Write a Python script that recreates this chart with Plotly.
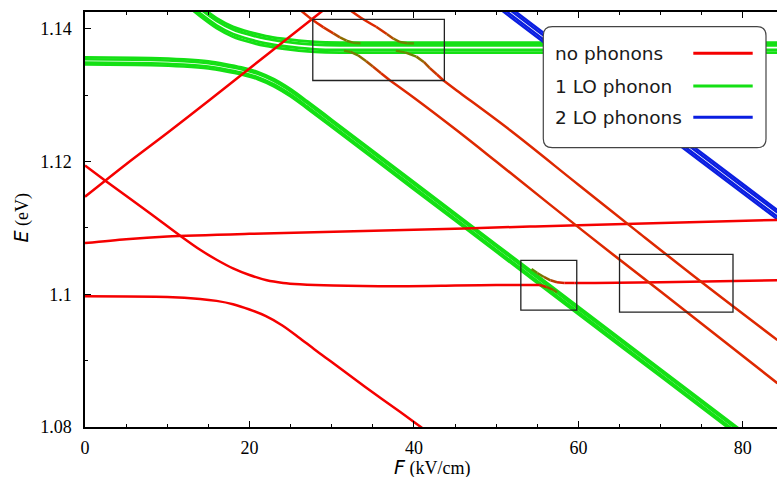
import plotly.graph_objects as go

# ---------------- axes ----------------
X_RANGE = [0, 84.15]
Y_RANGE = [1.08, 1.14252]
x_tickvals = [0, 20, 40, 60, 80]
x_ticktext = ["0", "20", "40", "60", "80"]
y_tickvals = [1.08, 1.10, 1.12, 1.14]
y_ticktext = ["1.08", "1.1", "1.12", "1.14"]

# ---------------- no-phonon levels (red) ----------------
r1_x = [0, 10, 14, 16, 18, 20, 22, 24, 26, 28, 30.2, 34, 38.3, 41.5]
r1_y = [1.0997, 1.0996, 1.0993, 1.0990, 1.0985, 1.0977, 1.0967, 1.0953, 1.0935, 1.0916, 1.0896, 1.0861, 1.0823, 1.0794]

r3_x = [0, 5, 10, 20, 40, 54.1, 60, 84.2]
r3_y = [1.1077, 1.1083, 1.1087, 1.1091, 1.1097, 1.1102, 1.1104, 1.1112]

r4_x = [0, 5, 10, 15, 20, 25, 29.5]
r4_y = [1.1147, 1.1196, 1.1243, 1.1291, 1.1340, 1.1389, 1.1433]

r2l_x = [0, 2.6, 7.9, 11.7, 14, 16, 18, 20, 22.1, 24.1, 26.1, 30.2, 38.3, 45, 50, 55.3, 56.1, 56.9, 57.4]
r2l_y = [1.1194, 1.1170, 1.1122, 1.1087, 1.1067, 1.1052, 1.1039, 1.1029, 1.1021, 1.1017, 1.1015, 1.1013, 1.1012, 1.1013, 1.1014, 1.1014, 1.1011, 1.1007, 1.1003]
r2l_w = [0, 0, 0, 0, 0, 0, 0, 0, 0, 0, 0, 0, 0, 0, 0, 0, 0.35, 0.6, 0.8]

r2r_x = [54.3, 55.0, 55.8, 56.6, 57.4, 58.3, 59.5, 62, 70, 84.2]
r2r_y = [1.1038, 1.1032, 1.1026, 1.1021, 1.1018, 1.1017, 1.1017, 1.1017, 1.1018, 1.1021]
r2r_w = [0.85, 0.75, 0.6, 0.45, 0.25, 0.1, 0, 0, 0, 0]

# descending levels crossing the 1-LO band (anticrossings near 32 and 38 kV/cm)
au_x = [26.0, 27.7, 29.0, 30.2, 31.0, 31.8, 32.6, 33.5]
au_y = [1.1430, 1.1413, 1.1402, 1.1393, 1.1387, 1.1382, 1.1379, 1.1378]
au_w = [0, 0, 0, 0.15, 0.4, 0.6, 0.75, 0.85]

al_x = [31.5, 32.3, 33.2, 34.2, 35.0, 36.0, 37.1, 40.0, 45.2, 50.0, 60.4, 70.0, 84.2]
al_y = [1.1367, 1.1365, 1.1360, 1.1351, 1.1343, 1.1333, 1.1322, 1.1296, 1.1247, 1.1200, 1.1097, 1.1004, 1.0866]
al_w = [0.85, 0.75, 0.6, 0.4, 0.2, 0.05, 0, 0, 0, 0, 0, 0, 0]

bu_x = [32.0, 33.5, 35.4, 36.7, 37.5, 38.3, 39.2, 40.0]
bu_y = [1.1430, 1.1417, 1.1403, 1.1392, 1.1385, 1.1380, 1.1378, 1.1378]
bu_w = [0, 0, 0, 0.15, 0.4, 0.6, 0.75, 0.85]

bl_x = [37.8, 39.0, 40.3, 41.2, 41.9, 42.8, 43.6, 45.2, 51.7, 60.0, 66.9, 75.0, 84.2]
bl_y = [1.1367, 1.1364, 1.1358, 1.1350, 1.1341, 1.1331, 1.1322, 1.1307, 1.1247, 1.1165, 1.1097, 1.1018, 1.0931]
bl_w = [0.85, 0.75, 0.6, 0.4, 0.2, 0.05, 0, 0, 0, 0, 0, 0, 0]

# ---------------- 1 LO phonon levels (green bundles) ----------------
g1_x = [0, 8, 12, 15, 17, 19, 21, 23, 25, 27, 30, 40, 50, 60, 70, 80]
g1a_y = [1.1357, 1.1356, 1.1354, 1.1351, 1.1347, 1.1342, 1.1335, 1.1324, 1.1309, 1.1291, 1.1263, 1.1169, 1.1075, 1.0981, 1.0887, 1.0793]
g1b_y = [1.1354, 1.1353, 1.1351, 1.1348, 1.1344, 1.1339, 1.1332, 1.1321, 1.1306, 1.1288, 1.1260, 1.1166, 1.1072, 1.0978, 1.0884, 1.0790]
g1c_y = [1.1349, 1.1348, 1.1346, 1.1343, 1.1339, 1.1334, 1.1327, 1.1316, 1.1301, 1.1283, 1.1255, 1.1161, 1.1067, 1.0973, 1.0879, 1.0785]
g1d_y = [1.1346, 1.1345, 1.1343, 1.1340, 1.1336, 1.1331, 1.1324, 1.1313, 1.1298, 1.1280, 1.1252, 1.1158, 1.1064, 1.0970, 1.0876, 1.0782]

g2_x = [12.5, 14, 16, 18, 20, 22, 24, 26, 28, 31, 35, 45, 60, 84.2]
g2a_y = [1.1449, 1.1434, 1.1416, 1.1403, 1.1395, 1.1389, 1.1385, 1.1382, 1.1380, 1.1379, 1.1379, 1.1379, 1.1379, 1.1379]
g2b_y = [1.1445, 1.1430, 1.1412, 1.1399, 1.1391, 1.1385, 1.1381, 1.1378, 1.1376, 1.1375, 1.1375, 1.1375, 1.1375, 1.1375]
g2c_y = [1.1438, 1.1423, 1.1405, 1.1392, 1.1384, 1.1378, 1.1374, 1.1371, 1.1369, 1.1368, 1.1368, 1.1368, 1.1368, 1.1368]
g2d_y = [1.1434, 1.1419, 1.1401, 1.1388, 1.1380, 1.1374, 1.1370, 1.1367, 1.1365, 1.1364, 1.1364, 1.1364, 1.1364, 1.1364]

# ---------------- 2 LO phonon levels (blue bundle) ----------------
b_x = [50, 60, 70, 80, 84.2]
ba_y = [1.1448, 1.1354, 1.1260, 1.1166, 1.1127]
bb_y = [1.1444, 1.1350, 1.1256, 1.1162, 1.1123]
bc_y = [1.1438, 1.1344, 1.1250, 1.1156, 1.1117]
bd_y = [1.1434, 1.1340, 1.1246, 1.1152, 1.1113]

# highlighted regions [x0, x1, y0, y1]
boxes = [
    [27.7, 43.7, 1.1322, 1.1414],
    [53.0, 59.8, 1.0976, 1.1051],
    [65.0, 78.8, 1.0973, 1.1060],
]

legend_labels = ["no phonons", "1 LO phonon", "2 LO phonons"]

# ---------------- styles ----------------
RED = (245, 0, 0)
RED2 = (222, 40, 0)
GREEN = (20, 224, 20)
MIXG = (60, 175, 0)
BLUE = (10, 30, 225)
LW = 2.5

def rgb(c):
    return "rgb(%d,%d,%d)" % tuple(int(round(v)) for v in c)

def mix(c0, c1, t):
    return tuple(a + (b - a) * t for a, b in zip(c0, c1))

fig = go.Figure()

def add_line(xs, ys, color, width=LW):
    fig.add_trace(go.Scatter(x=xs, y=ys, mode="lines", showlegend=False, hoverinfo="skip",
                             line=dict(color=rgb(color), width=width, shape="spline", smoothing=0.8)))

def add_graded(xs, ys, ws, base):
    n = len(xs)
    i = 0
    while i < n - 1:
        t = 0.5 * (ws[i] + ws[i + 1])
        j = i + 1
        while j < n - 1 and ws[j] == 0 and ws[j + 1] == 0 and t == 0:
            j += 1
        col = mix(base, MIXG, t)
        fig.add_trace(go.Scatter(x=xs[i:j + 1], y=ys[i:j + 1], mode="lines", showlegend=False,
                                 hoverinfo="skip",
                                 line=dict(color=rgb(col), width=LW,
                                           shape="spline" if j - i > 1 else "linear")))
        i = j

for yy in (g1a_y, g1b_y, g1c_y, g1d_y):
    add_line(g1_x, yy, GREEN, 2.6)
for yy in (g2a_y, g2b_y, g2c_y, g2d_y):
    add_line(g2_x, yy, GREEN, 2.8)
for yy in (ba_y, bb_y, bc_y, bd_y):
    add_line(b_x, yy, BLUE, 2.4)

add_line(r1_x, r1_y, RED)
add_line(r3_x, r3_y, RED)
add_line(r4_x, r4_y, RED)
add_graded(r2l_x, r2l_y, r2l_w, RED)
add_graded(r2r_x, r2r_y, r2r_w, RED)
add_graded(au_x, au_y, au_w, RED2)
add_graded(al_x, al_y, al_w, RED2)
add_graded(bu_x, bu_y, bu_w, RED2)
add_graded(bl_x, bl_y, bl_w, RED2)

# ---------------- geometry helpers (pixel -> paper) ----------------
W, H = 777, 477
ML, MR, MT, MB = 85, 0, 12, 50
PW, PH = W - ML - MR, H - MT - MB

def px(x):
    return (x - ML) / PW

def py(y):
    return (H - MB - y) / PH

shapes = []
for x0, x1, y0, y1 in boxes:
    shapes.append(dict(type="rect", xref="x", yref="y", x0=x0, x1=x1, y0=y0, y1=y1,
                       line=dict(color="#222222", width=1.3), layer="above"))

# rounded legend frame
lx0, ly0, lx1, ly1, rr = 543.3, 26.7, 766.0, 147.7, 9
def P(x, y):
    return "%.5f,%.5f" % (px(x), py(y))
path = ("M " + P(lx0 + rr, ly0) + " L " + P(lx1 - rr, ly0) + " Q " + P(lx1, ly0) + " " + P(lx1, ly0 + rr)
        + " L " + P(lx1, ly1 - rr) + " Q " + P(lx1, ly1) + " " + P(lx1 - rr, ly1)
        + " L " + P(lx0 + rr, ly1) + " Q " + P(lx0, ly1) + " " + P(lx0, ly1 - rr)
        + " L " + P(lx0, ly0 + rr) + " Q " + P(lx0, ly0) + " " + P(lx0 + rr, ly0) + " Z")
shapes.append(dict(type="path", xref="paper", yref="paper", path=path,
                   fillcolor="white", line=dict(color="#444444", width=1.2), layer="above"))

leg_rows = [53.3, 86.0, 117.3]
leg_cols = [RED, GREEN, BLUE]
annotations = []
for lab, yrow, col in zip(legend_labels, leg_rows, leg_cols):
    shapes.append(dict(type="line", xref="paper", yref="paper", x0=px(693.3), x1=px(752.7),
                       y0=py(yrow), y1=py(yrow), line=dict(color=rgb(col), width=3), layer="above"))
    annotations.append(dict(xref="paper", yref="paper", x=px(552.5), y=py(yrow + 0.5), text=lab,
                            showarrow=False, xanchor="left", yanchor="middle",
                            font=dict(family="DejaVu Sans", size=18.5, color="#1a1a1a")))

annotations.append(dict(xref="paper", yref="paper", x=px(432), y=py(467),
                        text="<span style='font-family:DejaVu Sans;font-size:19px'><i>F</i></span> (kV/cm)",
                        showarrow=False, xanchor="center", yanchor="middle",
                        font=dict(family="Liberation Serif", size=18, color="black")))
annotations.append(dict(xref="paper", yref="paper", x=px(20.5), y=py(218), textangle=-90,
                        text="<span style='font-family:DejaVu Sans;font-size:19px'><i>E</i></span> (eV)",
                        showarrow=False, xanchor="center", yanchor="middle",
                        font=dict(family="Liberation Serif", size=18, color="black")))

tickfont = dict(family="Liberation Serif", size=18, color="black")
fig.update_layout(
    width=W, height=H, margin=dict(l=ML, r=MR, t=MT, b=MB),
    paper_bgcolor="white", plot_bgcolor="white", showlegend=False,
    shapes=shapes, annotations=annotations,
    xaxis=dict(range=X_RANGE, tickvals=x_tickvals, ticktext=x_ticktext, showgrid=False, zeroline=False,
               showline=True, linecolor="black", linewidth=1.5, mirror="ticks",
               ticks="inside", ticklen=6, tickwidth=1.2, tickcolor="black", tickfont=tickfont,
               ticklabelstandoff=4,
               minor=dict(ticks="inside", ticklen=3.5, tickwidth=1.2, tickcolor="black", dtick=5, tick0=0,
                          showgrid=False)),
    yaxis=dict(range=Y_RANGE, tickvals=y_tickvals, ticktext=y_ticktext, showgrid=False, zeroline=False,
               showline=True, linecolor="black", linewidth=1.5, mirror=False,
               ticks="inside", ticklen=6, tickwidth=1.2, tickcolor="black", tickfont=tickfont,
               ticklabelstandoff=8,
               minor=dict(ticks="inside", ticklen=3.5, tickwidth=1.2, tickcolor="black", dtick=0.01,
                          tick0=1.08, showgrid=False)),
)

fig.write_html("out.html", config={"displayModeBar": False},
               post_script="document.body.style.margin='0px';document.body.style.overflow='hidden';")
